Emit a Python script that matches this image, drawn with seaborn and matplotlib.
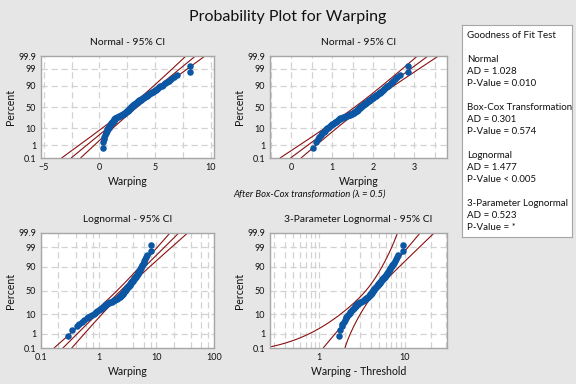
import numpy as np
import matplotlib
matplotlib.use("Agg")
import matplotlib.pyplot as plt
import matplotlib.ticker as mticker
import seaborn as sns
from statistics import NormalDist

# ── Data ───────────────────────────────────────────────────────────────────────
warping = [
    0.29, 0.35, 0.42, 0.45, 0.52, 0.56, 0.62, 0.66, 0.72, 0.76,
    0.82, 0.86, 0.90, 0.94, 1.00, 1.04, 1.08, 1.13, 1.18, 1.22,
    1.27, 1.31, 1.35, 1.39, 1.44, 1.52, 1.60, 1.70, 1.80, 1.88,
    1.95, 2.02, 2.08, 2.14, 2.20, 2.26, 2.31, 2.36, 2.41, 2.46,
    2.50, 2.54, 2.58, 2.62, 2.65, 2.68, 2.72, 2.76, 2.80, 2.84,
    2.88, 2.92, 2.96, 3.00, 3.05, 3.10, 3.15, 3.20, 3.25, 3.30,
    3.35, 3.40, 3.45, 3.50, 3.55, 3.60, 3.65, 3.70, 3.76, 3.82,
    3.88, 3.95, 4.02, 4.09, 4.16, 4.24, 4.32, 4.40, 4.48, 4.56,
    4.64, 4.72, 4.80, 4.88, 4.97, 5.06, 5.15, 5.25, 5.36, 5.48,
    5.60, 5.74, 5.88, 6.04, 6.22, 6.45, 6.70, 7.00, 8.10, 8.15,
]
threshold = -1.43
boxcox_lambda = 0.5

ytick_pct = [0.1, 1, 10, 50, 90, 99, 99.9]
ytick_labels = ["0.1", "1", "10", "50", "90", "99", "99.9"]
grid_pct = [1, 10, 50, 90, 99]

gof_names = ["Normal", "Box-Cox Transformation", "Lognormal", "3-Parameter Lognormal"]
gof_ad = ["1.028", "0.301", "1.477", "0.523"]
gof_p = ["= 0.010", "= 0.574", "< 0.005", "= *"]

# ── Style ─────────────────────────────────────────────────────────────────────
BLUE = "#0b57a4"
RED = "#8b1010"
GRID = "#d2d2d2"
FRAME = "#a6a6a6"
BG = "#e6e6e6"
INK = "#111111"
# widening of the 3-parameter band for the threshold uncertainty
BAND_K, BAND_C, BAND_T = 1.7, 1.0, 1.2

sns.set_theme(style="white")
plt.rcParams["font.family"] = ["Lato", "DejaVu Sans"]
plt.rcParams.update({"text.color": INK, "axes.labelcolor": INK,
                     "xtick.color": INK, "ytick.color": INK})

nd = NormalDist()
x = np.sort(np.array(warping))
n = len(x)
zq = np.array([nd.inv_cdf((i - 0.3) / (n + 0.4)) for i in range(1, n + 1)])
zlo, zhi = nd.inv_cdf(0.001), nd.inv_cdf(0.999)
zz = np.linspace(zlo, zhi, 300)
half = 1.96 * np.sqrt((1 + zz ** 2 / 2) / n)

fig = plt.figure(figsize=(5.76, 3.84), dpi=100, facecolor=BG)
W, H = 576.0, 384.0


def add_ax(l, t, r, b):
    return fig.add_axes([l / W, 1 - b / H, (r - l) / W, (b - t) / H])


def style_ax(ax, title, xlabel):
    ax.set_facecolor("white")
    ax.set_ylim(zlo, zhi)
    ax.set_yticks([nd.inv_cdf(p / 100) for p in ytick_pct])
    ax.set_yticklabels(ytick_labels)
    for p in grid_pct:
        ax.axhline(nd.inv_cdf(p / 100), color=GRID, lw=0.9, ls=(0, (5, 3)), zorder=0)
    ax.grid(True, axis="x", which="both", color=GRID, lw=0.9, ls=(0, (5, 3)))
    ax.set_axisbelow(True)
    for sp in ax.spines.values():
        sp.set_color(FRAME)
        sp.set_linewidth(1.0)
    ax.tick_params(axis="both", which="major", labelsize=6.5, length=2,
                   color=FRAME, labelcolor=INK, pad=1.5)
    ax.tick_params(axis="both", which="minor", length=0)
    ax.set_title(title, fontsize=7.4, pad=8)
    ax.set_xlabel(xlabel, fontsize=7.6, labelpad=3)
    ax.set_ylabel("Percent", fontsize=7.6, labelpad=1.5)


def draw(ax, vals, lines):
    for ln in lines:
        ax.plot(ln, zz, color=RED, lw=0.8, zorder=2)
    sns.scatterplot(x=vals, y=zq, ax=ax, color=BLUE, s=22, linewidth=0, zorder=3)


# Normal
ax1 = add_ax(41, 56, 214, 158)
m, s = x.mean(), x.std()
draw(ax1, x, [m + zz * s, m + zz * s - half * s, m + zz * s + half * s])
ax1.set_xlim(-5.25, 10.3)
ax1.xaxis.set_major_locator(mticker.MultipleLocator(5))
ax1.xaxis.set_minor_locator(mticker.MultipleLocator(2.5))
style_ax(ax1, "Normal - 95% CI", "Warping")

# Box-Cox
ax2 = add_ax(270, 56, 447, 158)
bx = x ** boxcox_lambda
m, s = bx.mean(), bx.std()
draw(ax2, bx, [m + zz * s, m + zz * s - half * s, m + zz * s + half * s])
ax2.set_xlim(-0.52, 3.8)
ax2.xaxis.set_major_locator(mticker.MultipleLocator(1))
ax2.xaxis.set_minor_locator(mticker.MultipleLocator(0.5))
style_ax(ax2, "Normal - 95% CI", "Warping")

# Lognormal
ax3 = add_ax(41, 233, 214, 348)
lx = np.log(x)
m, s = lx.mean(), lx.std()
draw(ax3, x, [np.exp(m + zz * s), np.exp(m + zz * s - half * s),
              np.exp(m + zz * s + half * s)])
ax3.set_xscale("log")
ax3.set_xlim(0.1, 100)
ax3.xaxis.set_major_locator(mticker.LogLocator(base=10))
ax3.xaxis.set_minor_locator(mticker.LogLocator(base=10, subs=(2, 4, 6, 8)))
ax3.xaxis.set_major_formatter(mticker.FuncFormatter(lambda v, _: f"{v:g}"))
ax3.xaxis.set_minor_formatter(mticker.NullFormatter())
style_ax(ax3, "Lognormal - 95% CI", "Warping")

# 3-parameter lognormal
ax4 = add_ax(270, 233, 447, 348)
tx = x - threshold
lt = np.log(tx)
m, s = lt.mean(), lt.std()
E = np.exp(m + zz * s)
se = np.sqrt((BAND_K * E * s) ** 2 * (1 + BAND_C * zz ** 2)
             + (BAND_T * np.minimum(zz, 0)) ** 2) / np.sqrt(n)
lo = E - 1.96 * se
lo = np.where(lo > 0, lo, np.nan)
draw(ax4, tx, [E, lo, E + 1.96 * se])
ax4.set_xscale("log")
ax4.set_xlim(0.27, 31)
ax4.xaxis.set_major_locator(mticker.LogLocator(base=10))
ax4.xaxis.set_minor_locator(mticker.LogLocator(base=10, subs=np.arange(2, 10)))
ax4.xaxis.set_major_formatter(mticker.FuncFormatter(lambda v, _: f"{v:g}"))
ax4.xaxis.set_minor_formatter(mticker.NullFormatter())
style_ax(ax4, "3-Parameter Lognormal - 95% CI", "Warping - Threshold")

# Titles and notes
fig.text(288 / W, 1 - 17 / H, "Probability Plot for Warping", ha="center",
         va="center", fontsize=11.5)
fig.text(310 / W, 1 - 194 / H, "After Box-Cox transformation (\u03bb = 0.5)",
         ha="center", va="center", fontsize=6.8, style="italic")

# Goodness of fit box
box = add_ax(462, 25, 572, 237)
box.set_facecolor("white")
box.set_xticks([])
box.set_yticks([])
for sp in box.spines.values():
    sp.set_color(FRAME)
    sp.set_linewidth(0.8)

tx0 = 467 / W
fs = 7.0
fig.text(tx0, 1 - 35.7 / H, "Goodness of Fit Test", fontsize=fs, va="center")
for k, (name, ad, pv) in enumerate(zip(gof_names, gof_ad, gof_p)):
    y0 = 60 + k * 48
    fig.text(tx0, 1 - y0 / H, name, fontsize=fs, va="center")
    fig.text(tx0, 1 - (y0 + 11.7) / H, f"AD = {ad}", fontsize=fs, va="center")
    fig.text(tx0, 1 - (y0 + 23.4) / H, f"P-Value {pv}", fontsize=fs, va="center")

fig.savefig("out.png", dpi=100, facecolor=BG)
